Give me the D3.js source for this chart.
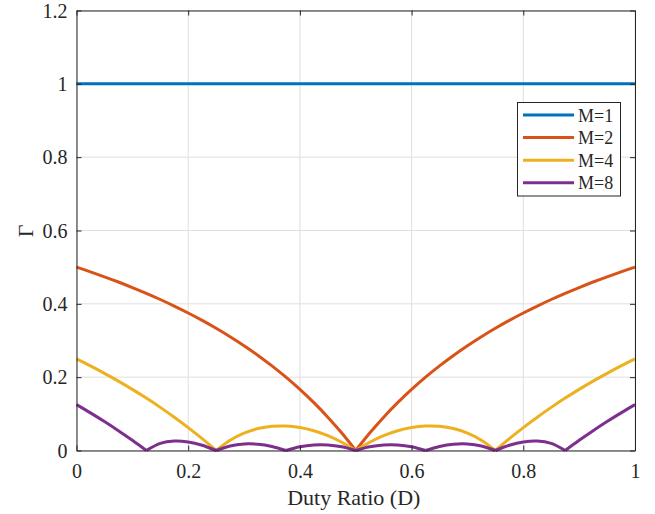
<!DOCTYPE html>
<html><head><meta charset="utf-8">
<script src="https://cdn.jsdelivr.net/npm/d3@7"></script>
<style>body{margin:0;background:#fff}svg{display:block}svg text{font-family:"Liberation Serif","Times New Roman",serif !important;fill:#262626}</style>
</head><body><svg id="c" width="655" height="514"></svg>
<script>
const D = [0,0.025,0.05,0.075,0.1,0.125,0.15,0.175,0.2,0.225,0.25,0.275,0.3,0.325,0.35,0.375,0.4,0.425,0.45,0.475,0.5,0.525,0.55,0.575,0.6,0.625,0.65,0.675,0.7,0.725,0.75,0.775,0.8,0.825,0.85,0.875,0.9,0.925,0.95,0.975,1];
const M1 = D.map(()=>1);
const M2half = [0.5,0.4872,0.4737,0.4595,0.4444,0.4286,0.4118,0.3939,0.375,0.3548,0.3333,0.3103,0.2857,0.2593,0.2308,0.2,0.1667,0.1304,0.0909,0.0476,0];
const M4half = [0.25,0.2308,0.2105,0.1892,0.1667,0.1429,0.1176,0.0909,0.0625,0.0323,0,0.0282,0.0476,0.0598,0.0659,0.0667,0.0625,0.0537,0.0404,0.0226,0];
const M8half = [0.125,0.1026,0.0789,0.0541,0.0278,0,0.0196,0.0260,0.0234,0.0143,0,0.0125,0.0179,0.0171,0.0110,0,0.0104,0.0153,0.0152,0.0100,0];
const mirror = h => h.concat(h.slice(0,-1).reverse());
const M2 = mirror(M2half), M4 = mirror(M4half), M8 = mirror(M8half);
const names = ["M=1","M=2","M=4","M=8"];
const colors = ["#0072BD","#D95319","#EDB120","#7E2F8E"];
const seriesVals = [M1,M2,M4,M8];
const xTicks = [0,0.2,0.4,0.6,0.8,1];
const yTicks = [0,0.2,0.4,0.6,0.8,1,1.2];

const svg = d3.select("#c");
const L=76.5,R=635,T=10.5,B=450.5;
const x = d3.scaleLinear().domain([0,1]).range([L,R]);
const y = d3.scaleLinear().domain([0,1.2]).range([B,T]);
const ax="#262626";
svg.append("g").selectAll("line").data(xTicks).join("line")
 .attr("x1",d=>x(d)).attr("x2",d=>x(d)).attr("y1",T).attr("y2",B).attr("stroke","#dfdfdf").attr("stroke-width",1);
svg.append("g").selectAll("line").data(yTicks).join("line")
 .attr("y1",d=>y(d)).attr("y2",d=>y(d)).attr("x1",L).attr("x2",R).attr("stroke","#dfdfdf").attr("stroke-width",1);
const line = d3.line().x(d=>x(d[0])).y(d=>y(d[1])).curve(d3.curveCatmullRom.alpha(0.5));
const g = svg.append("g");
seriesVals.forEach((vals,i)=>{
  const segs=[]; let cur=[];
  vals.forEach((v,j)=>{ cur.push([D[j],v]); if(v===0 && j>0 && j<vals.length-1){segs.push(cur); cur=[[D[j],v]];} });
  segs.push(cur);
  segs.forEach(s=>g.append("path").attr("d",line(s)).attr("fill","none").attr("stroke",colors[i]).attr("stroke-width",3).attr("stroke-linejoin","round"));
});
const xa = svg.append("g").attr("transform",`translate(0,${B})`).call(d3.axisBottom(x).tickValues(xTicks).tickFormat(d3.format("")).tickSizeInner(-5).tickSizeOuter(0));
const xt = svg.append("g").attr("transform",`translate(0,${T})`).call(d3.axisTop(x).tickValues(xTicks).tickFormat("").tickSizeInner(-5).tickSizeOuter(0));
const ya = svg.append("g").attr("transform",`translate(${L},0)`).call(d3.axisLeft(y).tickValues(yTicks).tickFormat(d3.format("")).tickSizeInner(-5).tickSizeOuter(0));
const yr = svg.append("g").attr("transform",`translate(${R},0)`).call(d3.axisRight(y).tickValues(yTicks).tickFormat("").tickSizeInner(-5).tickSizeOuter(0));
[xa,xt,ya,yr].forEach(a=>{a.attr("font-family",null).attr("font-size",null);a.selectAll("path").attr("stroke",ax).attr("stroke-width",1);a.selectAll("line").attr("stroke",ax);a.selectAll("text").style("font-size","20px").attr("fill",ax);});
xa.selectAll("text").attr("y",27.5).attr("dy",null);
ya.selectAll("text").attr("x",-9).attr("dy","0.33em");
svg.append("text").attr("x",(L+R)/2-2).attr("y",505).attr("text-anchor","middle").style("font-size","22px").text("Duty Ratio (D)");
svg.append("text").attr("transform",`translate(32.5,231) rotate(-90)`).attr("text-anchor","middle").style("font-size","22px").text("Γ");
const lg = svg.append("g");
lg.append("rect").attr("x",517.5).attr("y",102.5).attr("width",103).attr("height",93.5).attr("fill","#fff").attr("stroke",ax).attr("stroke-width",1);
names.forEach((n,i)=>{
  const yy = 115+i*22.6;
  lg.append("line").attr("x1",523).attr("x2",574).attr("y1",yy).attr("y2",yy).attr("stroke",colors[i]).attr("stroke-width",3);
  lg.append("text").attr("x",578).attr("y",yy+6.5).style("font-size","18px").text(n);
});
</script></body></html>
